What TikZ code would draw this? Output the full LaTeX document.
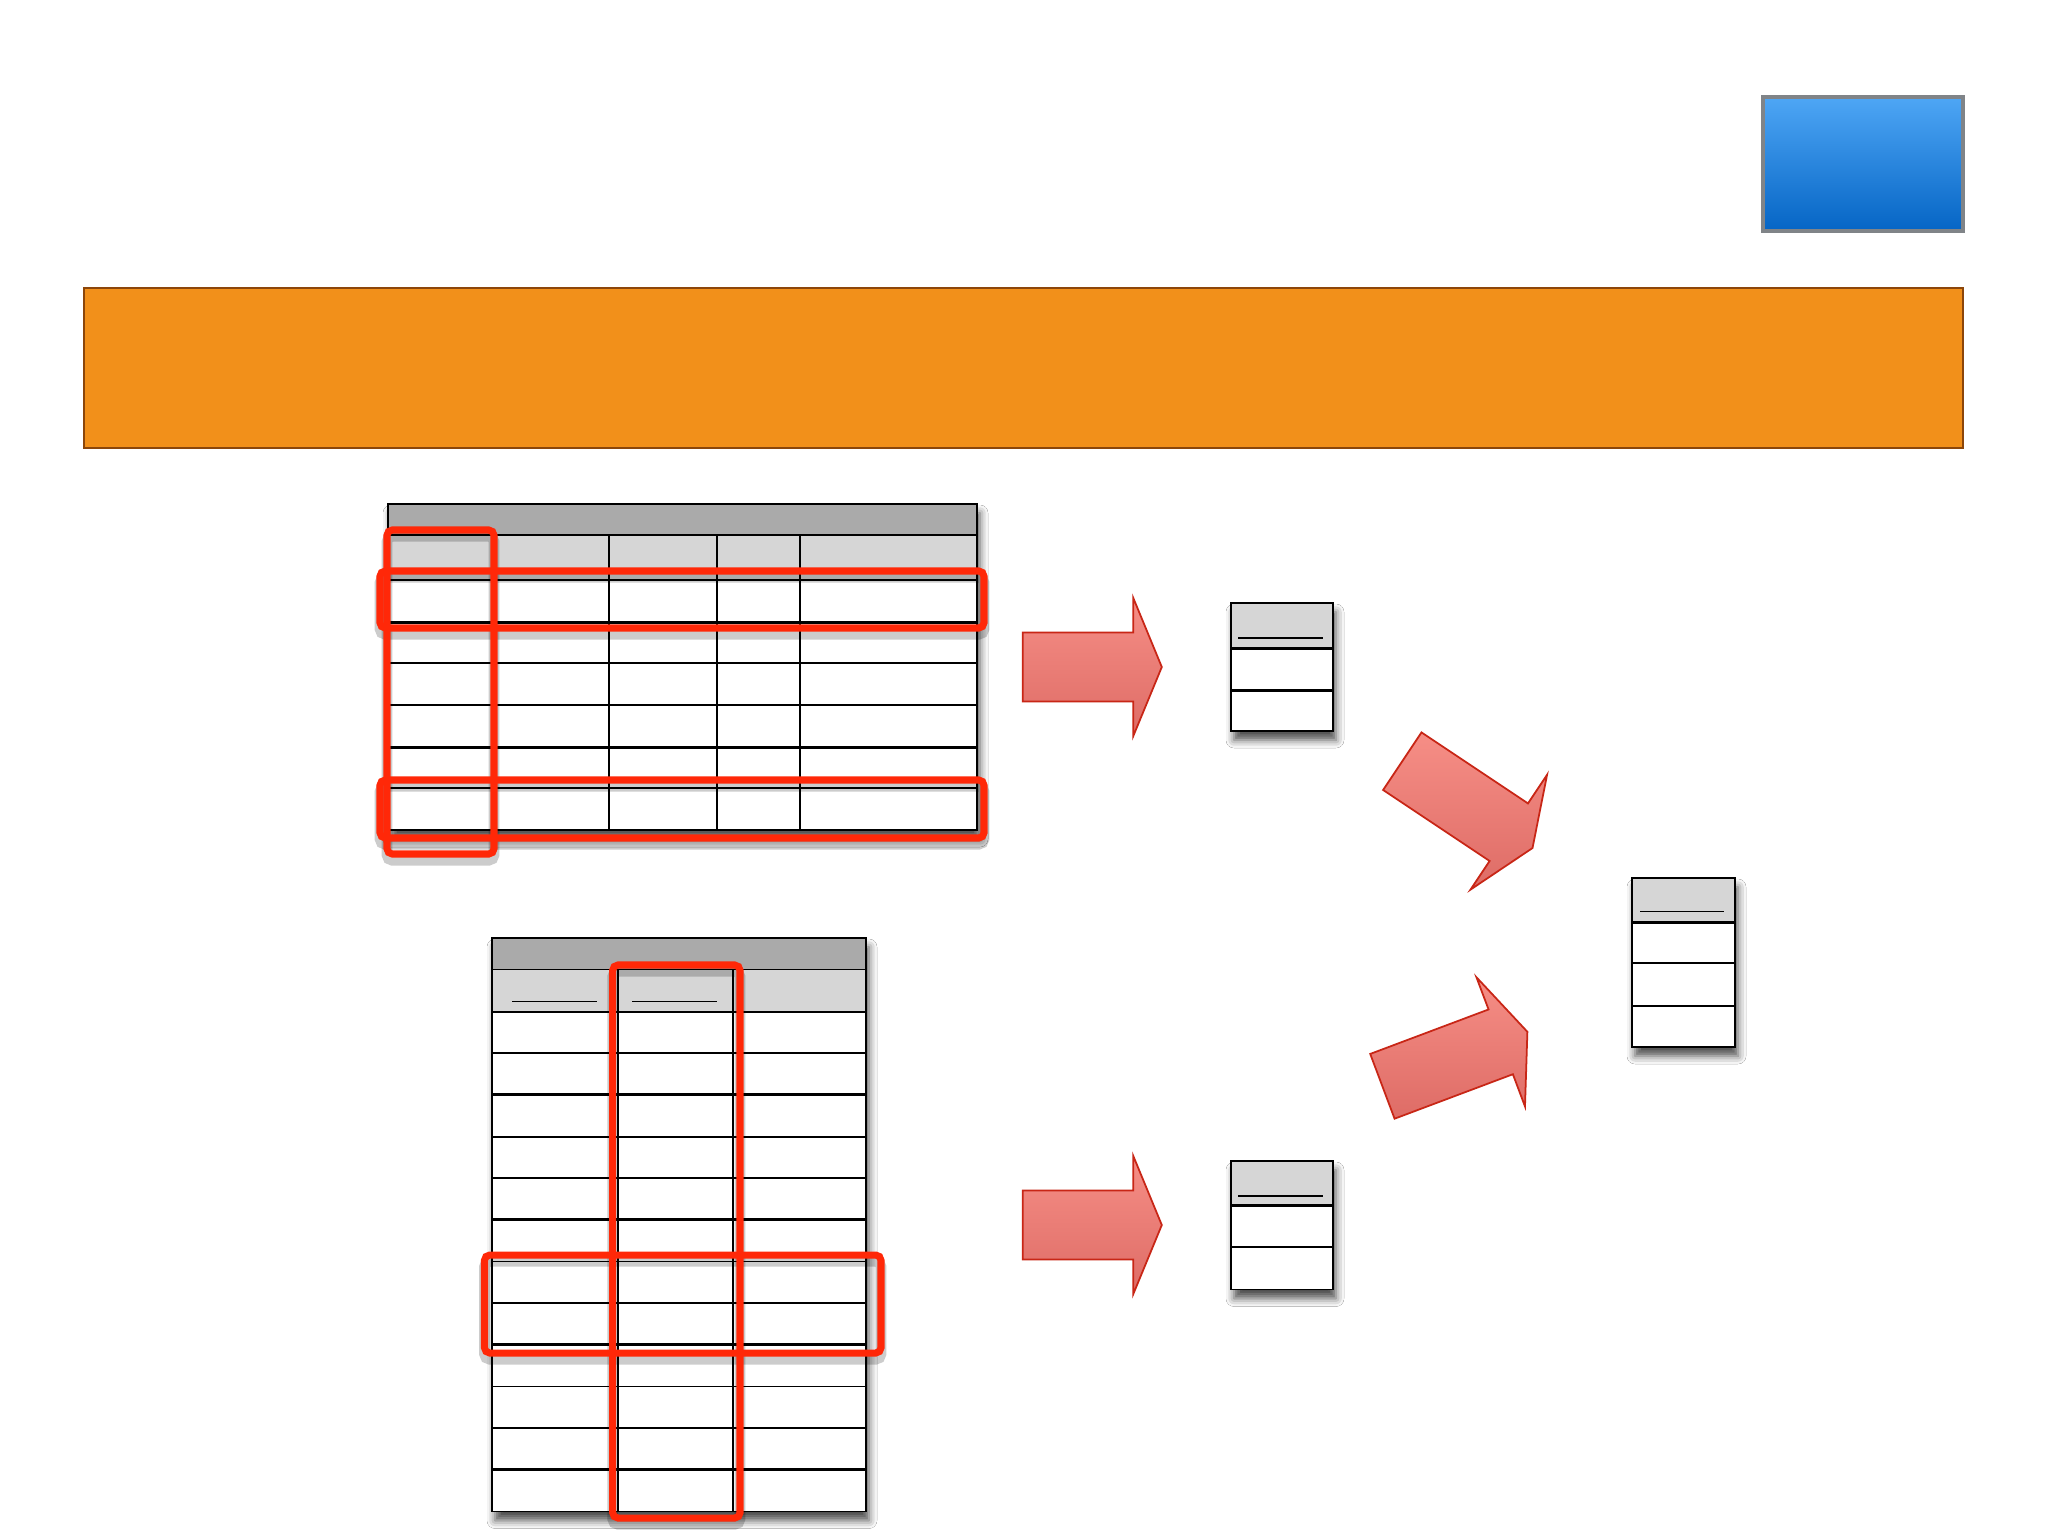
\documentclass[tikz,border=0pt]{standalone}
\usetikzlibrary{shadows.blur}
\definecolor{hdrdark}{RGB}{170,170,170}
\definecolor{hdrlight}{RGB}{214,214,214}
\definecolor{markred}{RGB}{255,40,8}
\definecolor{arrowtop}{RGB}{246,142,134}
\definecolor{arrowbot}{RGB}{222,108,102}
\definecolor{arrowline}{RGB}{200,38,22}
\definecolor{barfill}{RGB}{242,144,26}
\definecolor{barline}{RGB}{140,70,10}
\definecolor{bluetop}{RGB}{78,166,245}
\definecolor{bluebot}{RGB}{5,101,197}
\definecolor{blueline}{RGB}{128,132,136}
\tikzset{
  tbl/.style={fill=white, blur shadow={shadow xshift=0.03cm, shadow yshift=-0.09cm, shadow blur radius=0.08cm, shadow opacity=70}},
  grid/.style={draw=black, line width=0.55pt},
  thickgrid/.style={draw=black, line width=0.85pt},
  hilite/.style={draw=markred, line width=2pt, rounded corners=1.5pt},
  hiliteshadow/.style={draw=black, opacity=0.2, line width=3pt, rounded corners=1.5pt, yshift=-1.8pt},
  blockarrow/.style={draw=arrowline, line width=0.5pt, top color=arrowtop, bottom color=arrowbot},
}
% fat arrow: back centre, angle, shaft length
\newcommand{\fatarrow}[3]{
  \path[blockarrow, shift={(#1)}, rotate=#2] (0,-34.6) -- (#3,-34.6) -- (#3,-69) -- (#3+28.5,0) -- (#3,69) -- (#3,34.6) -- (0,34.6) -- cycle;
}
\begin{document}
\begin{tikzpicture}[x=0.01cm, y=-0.01cm]
  \useasboundingbox (0,0) rectangle (2048,1536);
  \fill[white] (0,0) rectangle (2048,1536);
  % banner and corner box
  \draw[blueline, line width=1.15pt, top color=bluetop, bottom color=bluebot] (1763,97) rectangle (1963,231);
  \draw[barline, line width=0.7pt, fill=barfill] (84,288) rectangle (1963,448);

  % wide table
  \path[tbl] (388,504) rectangle (977,830);
  \fill[hdrdark] (388,504) rectangle (977,535);
  \fill[hdrlight] (388,535) rectangle (977,580);
  \foreach \y in {535,580,663,705,788} \draw[grid] (388,\y) -- (977,\y);
  \foreach \y in {622,747} \draw[thickgrid] (388,\y) -- (977,\y);
  \foreach \x in {494,609,717,800} \draw[grid] (\x,535) -- (\x,830);
  \draw[grid] (388,504) rectangle (977,830);

  % long table
  \path[tbl] (492,938) rectangle (866,1511.5);
  \fill[hdrdark] (492,938) rectangle (866,969.5);
  \fill[hdrlight] (492,969.5) rectangle (866,1011.6);
  \foreach \y in {969.5,1011.6,1053.3,1136.6,1178.2,1261.5,1303.2,1386.5,1428.2} \draw[grid] (492,\y) -- (866,\y);
  \foreach \y in {1094.9,1219.9,1344.8,1469.8} \draw[thickgrid] (492,\y) -- (866,\y);
  \foreach \x in {618,733} \draw[grid] (\x,969.5) -- (\x,1511.5);
  \draw[line width=0.4pt] (512,1001.7) -- (597,1001.7);
  \draw[line width=0.4pt] (632,1001.7) -- (717,1001.7);
  \draw[grid] (492,938) rectangle (866,1511.5);

  % small tables
  \path[tbl] (1231,603) rectangle (1333,731);
  \fill[hdrlight] (1231,603) rectangle (1333,648);
  \draw[line width=0.4pt] (1238,638) -- (1323,638);
  \draw[thickgrid] (1231,648) -- (1333,648);
  \draw[thickgrid] (1231,690) -- (1333,690);
  \draw[grid] (1231,603) rectangle (1333,731);

  \path[tbl] (1231,1161) rectangle (1333,1289.5);
  \fill[hdrlight] (1231,1161) rectangle (1333,1205);
  \draw[line width=0.4pt] (1238,1196) -- (1323,1196);
  \draw[thickgrid] (1231,1205) -- (1333,1205);
  \draw[grid] (1231,1247) -- (1333,1247);
  \draw[grid] (1231,1161) rectangle (1333,1289.5);

  \path[tbl] (1632,878) rectangle (1735,1047);
  \fill[hdrlight] (1632,878) rectangle (1735,922);
  \draw[line width=0.4pt] (1640,911.5) -- (1724,911.5);
  \draw[thickgrid] (1632,922) -- (1735,922);
  \foreach \y in {963.4,1005.7} \draw[grid] (1632,\y) -- (1735,\y);
  \draw[line width=0.75pt] (1632,878) rectangle (1735,1047);

  % highlights
  \foreach \a/\b/\c/\d in {387/530/494/854, 380/571/984/628, 380/780/984/838, 612.7/965/740/1518, 484.5/1255/881/1353}
    \draw[hiliteshadow] (\a,\b) rectangle (\c,\d);
  \foreach \a/\b/\c/\d in {387/530/494/854, 380/571/984/628, 380/780/984/838, 612.7/965/740/1518, 484.5/1255/881/1353}
    \draw[hilite] (\a,\b) rectangle (\c,\d);

  % arrows
  \fatarrow{1022.8,667}{0}{110.5}
  \fatarrow{1022.8,1225}{0}{110.5}
  \fatarrow{1402.3,761.2}{-33.7}{128}
  \fatarrow{1382.4,1086.3}{20.6}{126.4}
\end{tikzpicture}
\end{document}
